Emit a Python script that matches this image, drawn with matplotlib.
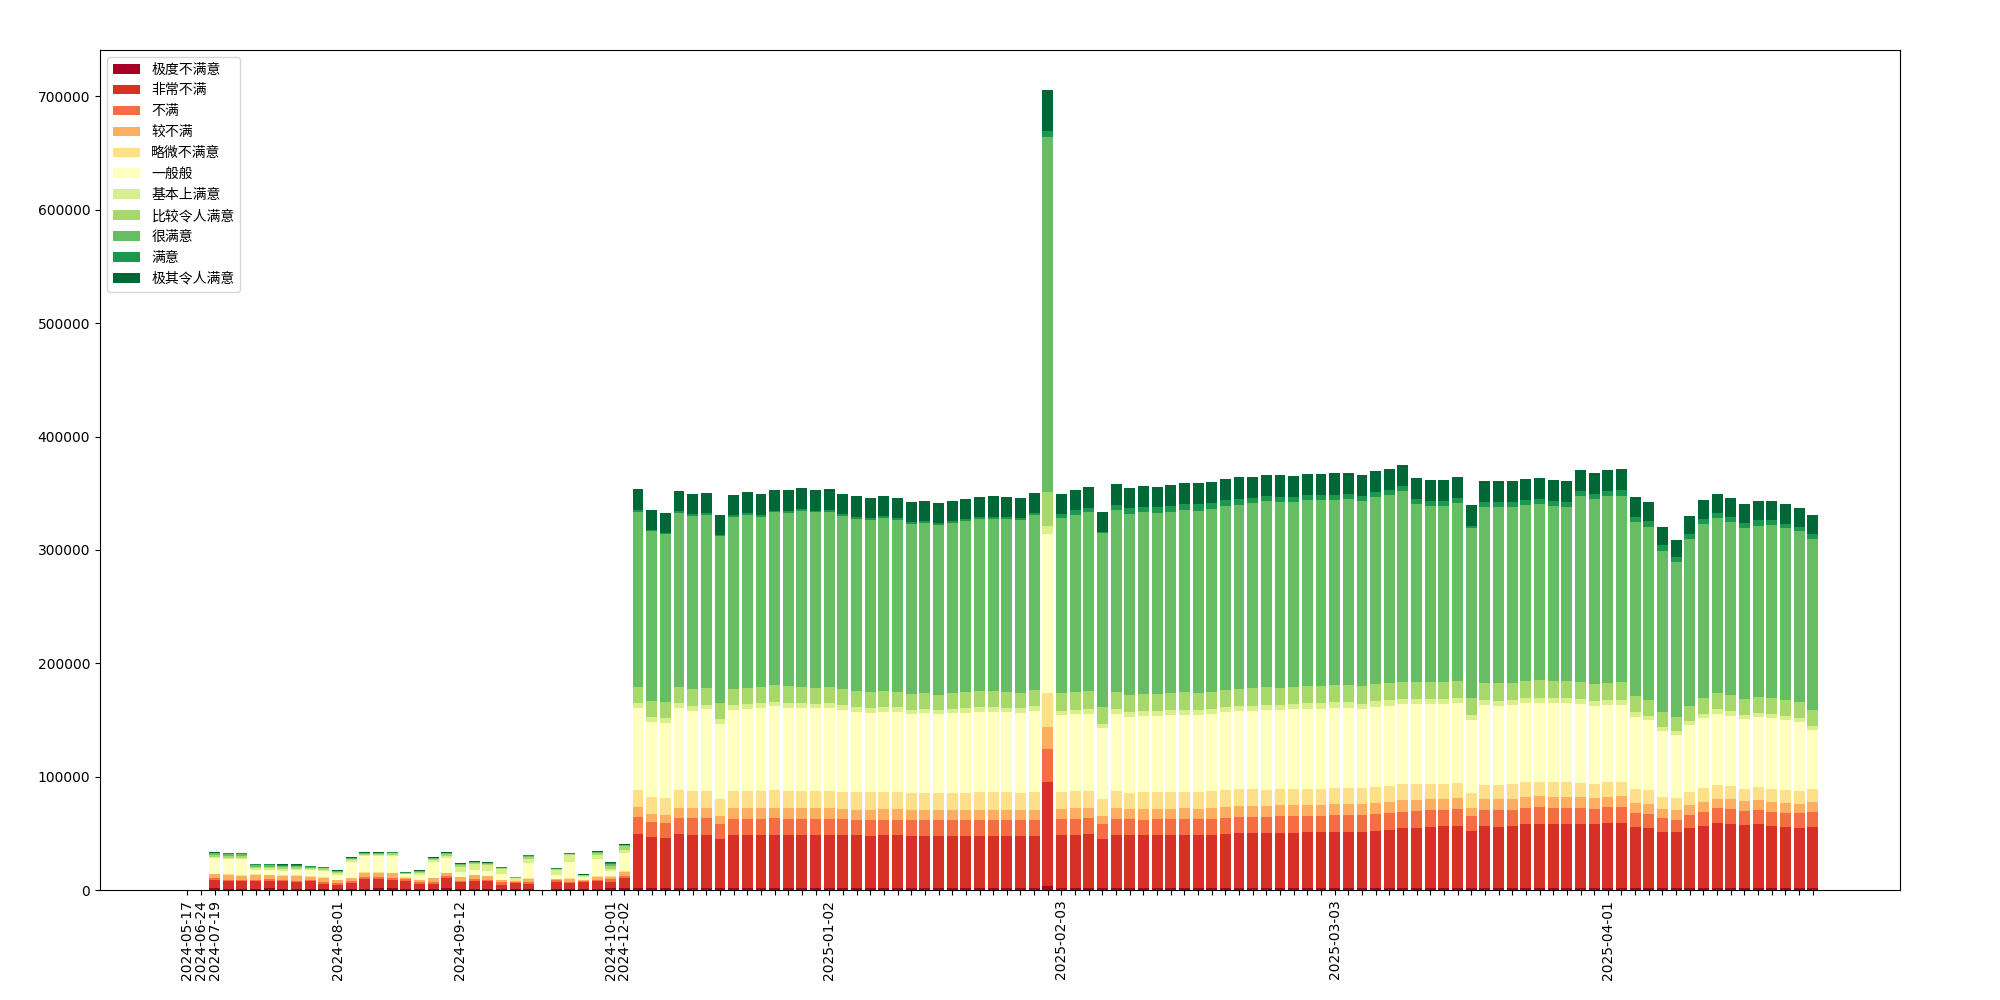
import matplotlib
matplotlib.use("Agg")
import matplotlib.pyplot as plt
import numpy as np

plt.rcParams['font.family'] = ['DejaVu Sans', 'Noto Sans CJK SC']

# ---- categories (trading dates) ----
def month(prefix, days):
    return ["%s-%02d" % (prefix, d) for d in days]

dates = (["2024-05-17", "2024-06-24"]
         + month("2024-07", [19, 22, 23, 24, 25, 26, 29, 30, 31])
         + month("2024-08", [1, 2, 5, 6, 7, 8, 9, 12, 13])
         + month("2024-09", [12, 13, 18, 19, 20, 23, 24, 25, 26, 27, 30])
         + ["2024-10-01"]
         + month("2024-12", [2, 3, 4, 5, 6, 9, 10, 11, 12, 13, 16, 17, 18, 19, 20])
         + month("2025-01", [2, 3, 6, 7, 8, 9, 10, 13, 14, 15, 16, 17, 20, 21, 22, 23, 24])
         + month("2025-02", [3, 4, 5, 6, 7, 10, 11, 12, 13, 14, 17, 18, 19, 20, 21, 24, 25, 26, 27, 28])
         + month("2025-03", [3, 4, 5, 6, 7, 10, 11, 12, 13, 14, 17, 18, 19, 20, 21, 24, 25, 26, 27, 28])
         + month("2025-04", [1, 2, 3, 4, 7, 8, 9, 10, 11, 14, 15, 16, 17, 18, 21, 22]))

labels = ["极度不满意", "非常不满", "不满", "较不满", "略微不满意", "一般般",
          "基本上满意", "比较令人满意", "很满意", "满意", "极其令人满意"]

colors = ['#a50026', '#d73027', '#f46d43', '#fdae61', '#fee08b', '#ffffbf',
          '#d9ef8b', '#a6d96a', '#66bd63', '#1a9850', '#006837']

# ---- series values ----
s0 = [0, 0, 1800, 900, 900, 900, 1800, 900, 900, 900,
      900, 900, 900, 900, 1800, 1800, 900, 900, 900, 1800,
      900, 900, 900, 900, 900, 900, 0, 900, 900, 900,
      900, 1800, 1800, 1800, 1800, 1800, 1800, 1800, 1800, 1800,
      1800, 1800, 1800, 1800, 1800, 1800, 1800, 1800, 1800, 1800,
      1800, 1800, 1800, 1800, 1800, 1800, 1800, 1800, 1800, 1800,
      1800, 1800, 1800, 3700, 1800, 1800, 1800, 1800, 1800, 1800,
      1800, 1800, 1800, 1800, 1800, 1800, 1800, 1800, 1800, 1800,
      1800, 1800, 1800, 1800, 1800, 1800, 1800, 1800, 1800, 1800,
      1800, 1800, 1800, 1800, 1800, 1800, 1800, 1800, 1800, 1800,
      1800, 1800, 1800, 1800, 1800, 1800, 1800, 1800, 1800, 1800,
      1800, 1800, 1800, 1800, 1800, 1800, 1800, 1800, 1800, 1800]

s1 = [0, 0, 7000, 7400, 7400, 7400, 6200, 7100, 6200, 7400,
      4400, 3500, 5600, 8800, 7900, 7100, 7400, 4400, 4400, 9100,
      6200, 7400, 7100, 3500, 5600, 4400, 0, 6500, 5300, 6200,
      7100, 5600, 8800, 47600, 45000, 44100, 47600, 46700, 46700, 43200,
      46700, 46700, 46700, 46700, 46700, 46700, 46700, 46700, 46700, 46700,
      45900, 46700, 46700, 45900, 45900, 45900, 45900, 45900, 45900, 45900,
      45900, 45900, 45900, 91900, 46700, 46700, 47600, 43200, 46700, 46700,
      46700, 46700, 46700, 46700, 46700, 46700, 47600, 48500, 48500, 48500,
      48500, 48500, 49400, 49400, 49400, 49400, 49400, 50300, 51200, 52900,
      52900, 53800, 54700, 54700, 50300, 54700, 53800, 54700, 56400, 56400,
      56400, 56400, 56400, 56400, 57300, 57300, 53800, 52900, 49400, 49400,
      52900, 54700, 57300, 56400, 55600, 56400, 54700, 53800, 52900, 53800]

s2 = [0, 0, 1800, 600, 600, 600, 1500, 900, 1200, 600,
      1800, 1800, 1200, 1800, 1800, 2100, 1500, 1800, 1800, 1500,
      600, 1500, 900, 2600, 900, 1800, 0, 1500, 900, 900,
      900, 2100, 1800, 15000, 13200, 13200, 14100, 15000, 15000, 13200,
      14100, 14100, 14100, 15000, 14100, 14100, 14100, 14100, 14100, 13200,
      14100, 13200, 13200, 14100, 14100, 14100, 14100, 14100, 14100, 14100,
      14100, 14100, 14100, 29200, 14100, 14100, 14100, 13200, 14100, 14100,
      13200, 14100, 14100, 14100, 14100, 14100, 14100, 14100, 14100, 14100,
      15000, 15000, 14100, 14100, 15000, 15000, 15000, 15000, 15000, 14100,
      15000, 15000, 14100, 15000, 13200, 14100, 15000, 14100, 14100, 15000,
      14100, 14100, 14100, 13200, 14100, 14100, 12300, 12300, 12300, 10600,
      11500, 12300, 13200, 13200, 12300, 12300, 12300, 12300, 13200, 13200]

s3 = [0, 0, 3200, 4400, 3800, 4400, 3800, 3500, 4400, 2900,
      3800, 2600, 2600, 3800, 3800, 3800, 1200, 1800, 3500, 2400,
      3800, 3500, 3500, 1800, 900, 2600, 0, 900, 2600, 900,
      2900, 2100, 3500, 8800, 7100, 7100, 8800, 8800, 8800, 7100,
      9700, 9700, 9700, 8800, 9700, 9700, 9700, 9700, 8800, 8800,
      8800, 9700, 9700, 8800, 8800, 8800, 8800, 8800, 8800, 8800,
      8800, 8800, 8800, 18600, 8800, 9700, 8800, 7100, 9700, 8800,
      9700, 8800, 8800, 9700, 8800, 9700, 9700, 9700, 9700, 9700,
      9700, 9700, 9700, 9700, 9700, 9700, 9700, 9700, 9700, 10600,
      9700, 9700, 9700, 9700, 7100, 9700, 9700, 9700, 9700, 9700,
      9700, 9700, 9700, 9700, 8800, 9700, 8800, 8800, 7900, 8800,
      8800, 8800, 7900, 8800, 8800, 8800, 8800, 8800, 7900, 8800]

s4 = [0, 0, 600, 900, 600, 600, 300, 600, 300, 600,
      300, 300, 600, 300, 300, 300, 300, 300, 300, 600,
      300, 300, 300, 300, 300, 900, 0, 300, 900, 300,
      600, 900, 900, 15000, 15000, 15000, 15900, 15000, 15000, 15000,
      15000, 15000, 15000, 15900, 15000, 15000, 15000, 15000, 15000, 15900,
      15900, 15000, 15000, 15000, 15000, 15000, 15000, 15000, 15900, 15900,
      15900, 15000, 15900, 30800, 15300, 15000, 15000, 15000, 15000, 14100,
      15000, 15000, 15000, 14100, 15000, 15000, 15000, 15000, 15000, 14100,
      14100, 14100, 14100, 14100, 14100, 14100, 14100, 14100, 14100, 14100,
      14100, 13200, 13200, 13200, 13200, 12300, 12300, 13200, 13200, 12300,
      13200, 13200, 12300, 12300, 13200, 12300, 12300, 12300, 10600, 10600,
      11500, 12300, 12300, 11500, 10600, 11500, 11500, 11500, 11500, 11500]

s5 = [0, 0, 13800, 13200, 14100, 3800, 4100, 4100, 4400, 5000,
      5300, 4400, 13800, 14100, 14100, 14700, 2600, 4400, 14100, 13200,
      4400, 4400, 4400, 5000, 600, 13500, 0, 3500, 14100, 2600,
      15000, 4400, 15900, 72300, 66200, 66200, 72300, 70600, 72300, 66200,
      71400, 72300, 73200, 74100, 73200, 73200, 73200, 73200, 72300, 70600,
      69700, 70600, 70600, 69700, 70600, 69700, 70600, 70600, 70600, 70600,
      70600, 70600, 71400, 139600, 67600, 67900, 67900, 62600, 67900, 67000,
      67000, 67000, 67900, 67900, 67900, 67900, 68800, 68800, 68800, 70600,
      69700, 70600, 70600, 70600, 70600, 70600, 69700, 70600, 70600, 70600,
      70600, 70600, 70600, 70600, 64400, 70600, 69700, 69700, 69700, 69700,
      69700, 69700, 69700, 68800, 67900, 67900, 63500, 61700, 58200, 55600,
      59100, 61700, 62600, 61700, 61700, 61700, 62600, 61700, 60900, 52000]

s6 = [0, 0, 1200, 1200, 1200, 1500, 1500, 1500, 1500, 1200,
      1500, 1500, 1500, 1200, 1200, 1200, 600, 1500, 1500, 1800,
      4400, 5000, 5000, 4100, 1200, 3500, 0, 4400, 6200, 900,
      3500, 1800, 2600, 4400, 4400, 4400, 4400, 4400, 3500, 4400,
      4400, 4400, 4400, 3500, 4400, 4400, 3500, 4400, 4400, 4400,
      4400, 4400, 4400, 3500, 3500, 3500, 3500, 4400, 4400, 4400,
      3500, 4400, 4400, 7700, 3500, 3500, 4400, 3500, 4400, 4400,
      4400, 4400, 4400, 4400, 4400, 4400, 4400, 4400, 4400, 4400,
      4400, 4400, 5300, 5300, 5300, 5300, 4400, 5300, 5300, 4400,
      4400, 4400, 4400, 4400, 4400, 4400, 4400, 4400, 4400, 4400,
      4400, 4400, 4400, 4400, 4400, 4400, 4400, 3500, 3500, 3500,
      3500, 3500, 4400, 4400, 3500, 3500, 3500, 3500, 3500, 3500]

s7 = [0, 0, 1800, 1800, 1800, 1500, 1500, 1500, 1200, 1200,
      1200, 1200, 1200, 1200, 1200, 1200, 600, 1200, 1200, 1200,
      1500, 1200, 1200, 900, 600, 1800, 0, 600, 900, 300,
      1800, 2600, 3500, 14100, 14100, 14100, 14100, 15000, 15000, 14100,
      14100, 14100, 14100, 15000, 15000, 14100, 14100, 14100, 14100, 14100,
      14100, 14100, 13200, 14100, 14100, 13200, 14100, 14100, 14100, 14100,
      14100, 13200, 14100, 29500, 15900, 15900, 15900, 15000, 15000, 15000,
      15000, 15000, 15000, 15900, 15000, 15000, 15000, 15000, 15900, 15900,
      15000, 15000, 15000, 15000, 15000, 15000, 15900, 15000, 15000, 15000,
      15000, 15000, 15000, 15000, 15000, 15000, 15900, 15000, 15000, 15900,
      15000, 15000, 15000, 15000, 15000, 15900, 14100, 14100, 13200, 12300,
      13200, 14100, 14100, 14100, 14100, 14100, 14100, 14100, 14100, 14100]

s8 = [0, 0, 1200, 1200, 1200, 1200, 1200, 1200, 1200, 900,
      600, 600, 600, 600, 600, 600, 300, 600, 600, 900,
      600, 600, 600, 600, 300, 900, 0, 300, 300, 300,
      900, 1800, 600, 154400, 149900, 148200, 153500, 152600, 152600, 147300,
      151700, 152600, 149900, 152600, 152600, 155200, 155200, 154400, 152600, 151700,
      151700, 152600, 151700, 149900, 149900, 149900, 149900, 150800, 151700, 151700,
      152600, 152600, 154400, 313100, 154400, 156100, 157900, 153500, 160500, 159600,
      160500, 159600, 159600, 160500, 160500, 161400, 162300, 162300, 163200, 164100,
      164100, 163200, 164100, 164100, 163200, 164100, 163200, 164900, 165800, 168500,
      157000, 155200, 155200, 157000, 149900, 155200, 155200, 155200, 155200, 155200,
      154400, 153500, 164100, 163200, 164900, 164100, 153500, 152600, 142000, 136700,
      147300, 153500, 154400, 152600, 150800, 150800, 152600, 151700, 150800, 150800]

s9 = [0, 0, 600, 600, 600, 600, 600, 600, 600, 300,
      300, 300, 300, 300, 300, 300, 300, 300, 300, 300,
      600, 300, 300, 300, 300, 300, 0, 300, 300, 300,
      300, 900, 300, 1800, 900, 900, 1800, 1800, 1800, 900,
      1800, 1800, 1800, 900, 1800, 1800, 900, 1800, 1800, 1800,
      1800, 1800, 1800, 1800, 1800, 1800, 1800, 1800, 1800, 1800,
      1800, 1800, 1800, 5200, 3500, 4400, 3500, 900, 4400, 5300,
      4400, 5300, 5300, 5300, 6200, 5300, 5300, 5300, 4400, 4400,
      4400, 4400, 4400, 4400, 4400, 4400, 4400, 4400, 4400, 4400,
      4400, 4400, 4400, 4400, 1800, 4400, 4400, 4400, 4400, 4400,
      4400, 4400, 4400, 4400, 4400, 5300, 4400, 5300, 5300, 4400,
      4400, 4400, 4400, 4400, 4400, 5300, 4400, 3500, 3500, 4400]

s10 = [0, 0, 600, 600, 600, 600, 600, 600, 600, 600,
       600, 600, 600, 600, 600, 600, 600, 600, 600, 600,
       600, 600, 600, 600, 300, 600, 0, 600, 600, 300,
       600, 900, 900, 18500, 17600, 17600, 17600, 17600, 17600, 17600,
       17600, 18500, 18500, 18500, 18500, 18500, 18500, 18500, 17600, 18500,
       17600, 17600, 17600, 17600, 17600, 17600, 17600, 17600, 17600, 18500,
       17600, 17600, 17600, 36400, 17600, 17600, 18500, 17600, 18500, 17600,
       18500, 17600, 18500, 18500, 18500, 18500, 18500, 19400, 18500, 18500,
       19400, 18500, 18500, 18500, 19400, 18500, 18500, 18500, 18500, 18500,
       18500, 18500, 18500, 18500, 18500, 18500, 18500, 18500, 18500, 18500,
       18500, 18500, 18500, 18500, 18500, 18500, 17600, 16800, 15900, 15000,
       15900, 16800, 16800, 16800, 16800, 16800, 16800, 17600, 16800, 16800]

series = [s0, s1, s2, s3, s4, s5, s6, s7, s8, s9, s10]

fig = plt.figure(figsize=(20, 10), dpi=100)
ax = fig.add_axes([0.05, 0.11, 0.90, 0.84])

x = np.arange(len(dates))
bottom = np.zeros(len(dates))
for vals, lab, col in zip(series, labels, colors):
    v = np.array(vals, dtype=float)
    ax.bar(x, v, bottom=bottom, color=col, label=lab, width=0.8)
    bottom += v

ticklabels = []
prev = None
for d in dates:
    m = d[:7]
    ticklabels.append(d if m != prev else "")
    prev = m
ax.set_xticks(x)
ax.set_xticklabels(ticklabels, rotation=90, fontsize=10)
ax.legend(loc="upper left", prop={'family': ['Noto Sans CJK SC', 'DejaVu Sans'], 'size': 10})

fig.savefig("out.png")
